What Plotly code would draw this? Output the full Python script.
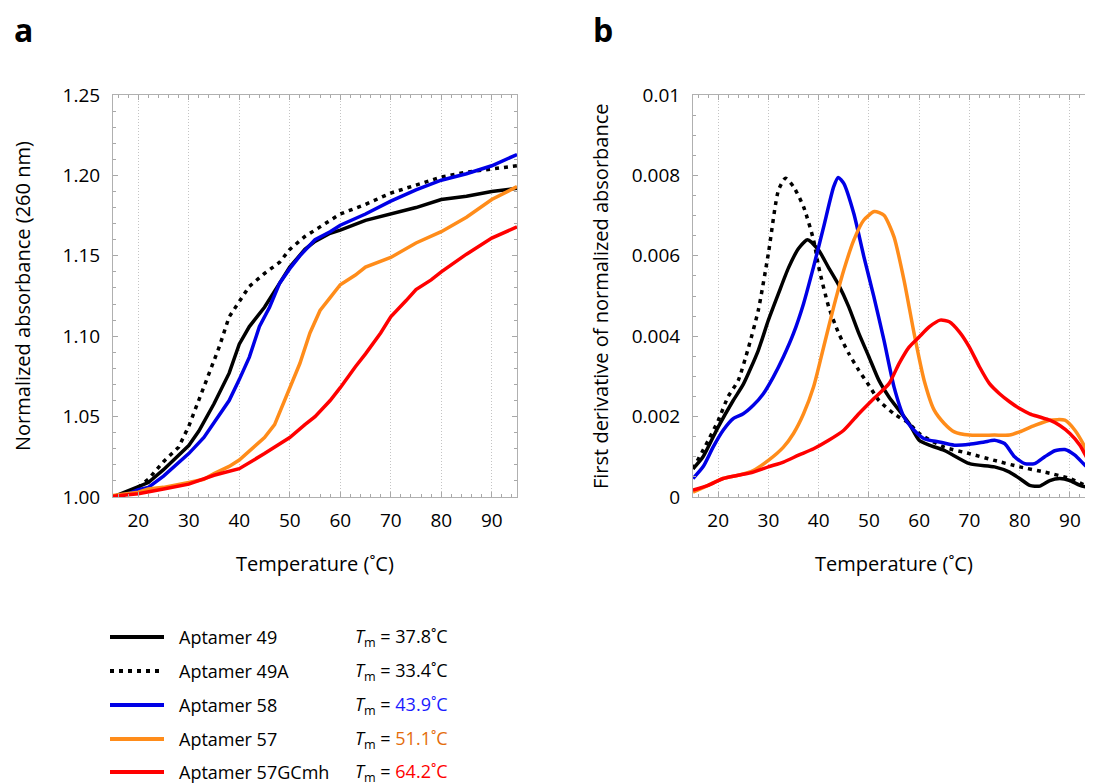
import plotly.graph_objects as go

FONT = "Open Sans"

# ---------------- Panel a: normalized absorbance ----------------
a49_T = [15, 18, 20, 22, 25, 28, 30, 32, 35, 38, 40, 42, 45, 48, 50, 53, 55, 58, 60, 65, 70, 75, 80, 85, 90, 95]
a49_V = [1.000, 1.0037, 1.006, 1.009, 1.017, 1.026, 1.032, 1.041, 1.058, 1.077, 1.095, 1.106, 1.118, 1.133, 1.143,
         1.154, 1.159, 1.164, 1.166, 1.172, 1.176, 1.180, 1.185, 1.187, 1.190, 1.192]

a49A_T = [15, 17, 20, 22, 25, 28, 30, 32, 34, 36, 38, 40, 42, 45, 48, 50, 53, 56, 60, 65, 70, 75, 80, 85, 90, 95]
a49A_V = [1.000, 1.001, 1.006, 1.011, 1.022, 1.031, 1.044, 1.060, 1.077, 1.093, 1.112, 1.122, 1.131, 1.139, 1.146,
          1.154, 1.162, 1.168, 1.176, 1.182, 1.189, 1.194, 1.199, 1.202, 1.204, 1.206]

a58_T = [15, 18, 20, 22, 25, 28, 30, 33, 35, 38, 40, 42, 44, 46, 48, 50, 52, 55, 58, 60, 65, 70, 75, 80, 85, 90, 95]
a58_V = [1.000, 1.002, 1.0046, 1.006, 1.013, 1.021, 1.027, 1.037, 1.046, 1.060, 1.073, 1.087, 1.106, 1.118, 1.133,
         1.142, 1.150, 1.160, 1.165, 1.169, 1.176, 1.184, 1.191, 1.197, 1.201, 1.206, 1.213]

a57_T = [15, 20, 22, 25, 30, 33, 35, 38, 40, 43, 45, 47, 49, 50, 52, 54, 56, 58, 60, 63, 65, 70, 75, 80, 85, 90, 95]
a57_V = [1.001, 1.003, 1.005, 1.006, 1.009, 1.011, 1.0145, 1.019, 1.023, 1.031, 1.037, 1.045, 1.060, 1.068, 1.083,
         1.102, 1.116, 1.124, 1.132, 1.138, 1.143, 1.149, 1.158, 1.165, 1.174, 1.185, 1.193]

a57GC_T = [15, 20, 25, 30, 35, 40, 45, 50, 53, 55, 58, 60, 63, 65, 68, 70, 73, 75, 78, 80, 85, 90, 95]
a57GC_V = [1.0005, 1.002, 1.005, 1.008, 1.0135, 1.0176, 1.027, 1.037, 1.045, 1.050, 1.060, 1.068, 1.081, 1.089,
           1.102, 1.112, 1.122, 1.129, 1.135, 1.140, 1.151, 1.161, 1.168]

# ---------------- Panel b: first derivative ----------------
b49_T = [15, 17, 20, 23, 25, 28, 30, 32, 34, 36, 37.8, 40, 42, 44, 46, 48, 50, 52, 54, 56, 58, 60, 62, 65, 70, 75,
         78, 80, 82, 84, 86, 88, 90, 92, 95]
b49_V = [0.0007, 0.001, 0.00174, 0.0024, 0.0028, 0.00365, 0.0044, 0.00506, 0.0057, 0.00618, 0.0064, 0.00614,
         0.0057, 0.00527, 0.00473, 0.00407, 0.00349, 0.0029, 0.00249, 0.00216, 0.00183, 0.00141, 0.00129, 0.00116,
         0.00083, 0.00075, 0.00062, 0.00046, 0.00029, 0.00027, 0.00041, 0.00046, 0.00041, 0.00029, 0.0002]

b49A_T = [15, 18, 20, 22, 24, 26, 28, 30, 32, 33.4, 35, 37, 39, 40, 42, 44, 46, 48, 50, 52, 55, 58, 60, 65, 70, 75,
          80, 85, 90, 95]
b49A_V = [0.0007, 0.0014, 0.0019, 0.0025, 0.0029, 0.0037, 0.00465, 0.00606, 0.00763, 0.00793, 0.00772, 0.00722,
          0.00639, 0.00573, 0.00473, 0.00407, 0.00357, 0.00315, 0.00278, 0.0024, 0.00207, 0.00183, 0.00158, 0.00124,
          0.00108, 0.00091, 0.00075, 0.00062, 0.00046, 0.00017]

b58_T = [15, 17, 19, 21, 23, 25, 27, 29, 31, 33, 35, 37, 39, 41, 43, 43.9, 45, 47, 49, 51, 53, 55, 57, 59, 61, 64,
         67, 70, 73, 75, 77, 79, 81, 83, 85, 87, 89, 91, 93, 95]
b58_V = [0.00046, 0.00075, 0.00124, 0.00166, 0.00195, 0.00207, 0.00228, 0.00257, 0.00299, 0.00349, 0.00407,
         0.00481, 0.00573, 0.00672, 0.00772, 0.00795, 0.0078, 0.00705, 0.00598, 0.00498, 0.0039, 0.00274, 0.00199,
         0.00166, 0.00145, 0.00137, 0.00129, 0.00131, 0.00137, 0.00141, 0.00133, 0.001, 0.00083, 0.00083, 0.001,
         0.00115, 0.00118, 0.00104, 0.00079, 0.00058]

b57_T = [15, 18, 21, 24, 27, 30, 33, 35, 37, 39, 41, 43, 45, 47, 49, 51.1, 53, 55, 57, 59, 61, 63, 65, 67, 70, 75,
         78, 80, 83, 86, 89, 91, 93, 95]
b57_V = [0.00012, 0.00029, 0.00046, 0.00054, 0.00066, 0.00091, 0.00124, 0.00158, 0.00207, 0.00274, 0.00373,
         0.00473, 0.00564, 0.00639, 0.00689, 0.0071, 0.00701, 0.00647, 0.00539, 0.00407, 0.0029, 0.00216, 0.00183,
         0.00162, 0.00154, 0.00154, 0.00154, 0.00162, 0.00178, 0.00191, 0.00191, 0.00166, 0.00124, 0.0007]

b57GC_T = [15, 18, 21, 24, 27, 30, 33, 36, 39, 42, 45, 48, 51, 54, 56, 58, 60, 62, 64.2, 66, 68, 70, 72, 74, 76, 78,
           80, 82, 84, 86, 88, 90, 92, 94, 95]
b57GC_V = [0.00017, 0.00029, 0.00046, 0.00054, 0.00062, 0.00075, 0.00087, 0.00104, 0.0012, 0.00141, 0.00166,
           0.00207, 0.00245, 0.00282, 0.00332, 0.00373, 0.00398, 0.00423, 0.0044, 0.00436, 0.00411, 0.00373,
           0.00324, 0.00282, 0.00257, 0.00237, 0.0022, 0.00207, 0.00199, 0.00191, 0.00178, 0.00158, 0.00129,
           0.00083, 0.00066]

# ---------------- Legend content ----------------
names = ["Aptamer 49", "Aptamer 49A", "Aptamer 58", "Aptamer 57", "Aptamer 57GCmh"]
tm_values = ["37.8", "33.4", "43.9", "51.1", "64.2"]
line_colors = ["#000000", "#000000", "#0000E6", "#FF8C1A", "#FF0000"]
tm_colors = ["#000000", "#000000", "#1A1AFF", "#E46C0A", "#FF0000"]
dashes = ["solid", "4px,5px", "solid", "solid", "solid"]

a_x = [a49_T, a49A_T, a58_T, a57_T, a57GC_T]
a_y = [a49_V, a49A_V, a58_V, a57_V, a57GC_V]
b_x = [b49_T, b49A_T, b58_T, b57_T, b57GC_T]
b_y = [b49_V, b49A_V, b58_V, b57_V, b57GC_V]

b_tickvals = [0, 0.002, 0.004, 0.006, 0.008, 0.01]
b_ticktext = ["0", "0.002", "0.004", "0.006", "0.008", "0.01"]

W, H = 1093, 784
OFF = 8  # page offset of the plot div


def px(x):
    return (x - OFF) / W


def py(y):
    return 1 - (y - OFF) / H


fig = go.Figure()

for i in range(5):
    fig.add_trace(go.Scatter(x=a_x[i], y=a_y[i], mode="lines", name=names[i],
                             line=dict(color=line_colors[i], width=3.5, dash=dashes[i]),
                             xaxis="x", yaxis="y", showlegend=False))
for i in range(5):
    fig.add_trace(go.Scatter(x=b_x[i], y=b_y[i], mode="lines", name=names[i],
                             line=dict(color=line_colors[i], width=3.5, dash=dashes[i], shape="spline",
                                       smoothing=0.6),
                             xaxis="x2", yaxis="y2", showlegend=False))

axis_common = dict(
    showline=True, linecolor="#B0B0B0", linewidth=1, mirror="ticks",
    ticks="inside", ticklen=5, tickcolor="#A8A8A8", tickwidth=1,
    tickfont=dict(family=FONT, size=19, color="#000000"),
    zeroline=False, automargin=False,
)
xaxis_common = dict(axis_common, range=[15, 95], tickvals=[20, 30, 40, 50, 60, 70, 80, 90],
                    showgrid=True, gridcolor="#C4C4C4", griddash="1px,2px", gridwidth=1,
                    minor=dict(dtick=2, tick0=0, ticks="inside", ticklen=3, tickcolor="#A8A8A8", showgrid=False),
                    ticklabelstandoff=6)

ydom = [py(497), py(95)]
fig.update_layout(
    width=W, height=H, autosize=False,
    margin=dict(l=0, r=0, t=0, b=0, pad=0, autoexpand=False),
    paper_bgcolor="white", plot_bgcolor="white",
    showlegend=False,
    xaxis=dict(xaxis_common, domain=[px(113), px(517)], anchor="y"),
    yaxis=dict(axis_common, domain=ydom, anchor="x", range=[1.0, 1.25],
               tickvals=[1.0, 1.05, 1.10, 1.15, 1.20, 1.25], tickformat=".2f", showgrid=False,
               minor=dict(dtick=0.01, ticks="inside", ticklen=3, tickcolor="#A8A8A8", showgrid=False),
               ticklabelstandoff=8),
    xaxis2=dict(xaxis_common, domain=[px(693), min(1.0, px(1095))], anchor="y2"),
    yaxis2=dict(axis_common, domain=ydom, anchor="x2", range=[0, 0.01],
                tickvals=b_tickvals, ticktext=b_ticktext, showgrid=False,
                minor=dict(dtick=0.0005, ticks="inside", ticklen=3, tickcolor="#A8A8A8", showgrid=False),
                ticklabelstandoff=8),
)

ann = [
    dict(text="<b>a</b>", x=px(12), y=py(29), xanchor="left", yanchor="middle", font=dict(size=32)),
    dict(text="<b>b</b>", x=px(591), y=py(29), xanchor="left", yanchor="middle", font=dict(size=32)),
    dict(text="Temperature (˚C)", x=px(315), y=py(563), xanchor="center", yanchor="middle", font=dict(size=20)),
    dict(text="Temperature (˚C)", x=px(894), y=py(563), xanchor="center", yanchor="middle", font=dict(size=20)),
    dict(text="Normalized absorbance (260 nm)", x=px(22), y=py(296), textangle=-90,
         xanchor="center", yanchor="middle", font=dict(size=20)),
    dict(text="First derivative of normalized absorbance", x=px(600), y=py(296), textangle=-90,
         xanchor="center", yanchor="middle", font=dict(size=20)),
]

legend_y = [637, 671, 705, 739, 772]
shapes = []
for i in range(5):
    shapes.append(dict(type="line", xref="paper", yref="paper", x0=px(110), x1=px(164),
                       y0=py(legend_y[i]), y1=py(legend_y[i]),
                       line=dict(color=line_colors[i], width=4, dash=dashes[i])))
    ann.append(dict(text=names[i], x=px(177), y=py(legend_y[i]), xanchor="left", yanchor="middle",
                    font=dict(size=18)))
    ann.append(dict(text=f"<i>T</i><sub>m</sub> = <span style='color:{tm_colors[i]}'>{tm_values[i]}˚C</span>",
                    x=px(353), y=py(legend_y[i]), xanchor="left", yanchor="middle", font=dict(size=18)))

for a in ann:
    a.setdefault("xref", "paper")
    a.setdefault("yref", "paper")
    a["showarrow"] = False
    f = a.get("font", {})
    f.setdefault("family", FONT)
    f.setdefault("color", "#000000")
    a["font"] = f

fig.update_layout(annotations=ann, shapes=shapes)
fig.write_html("out.html")
